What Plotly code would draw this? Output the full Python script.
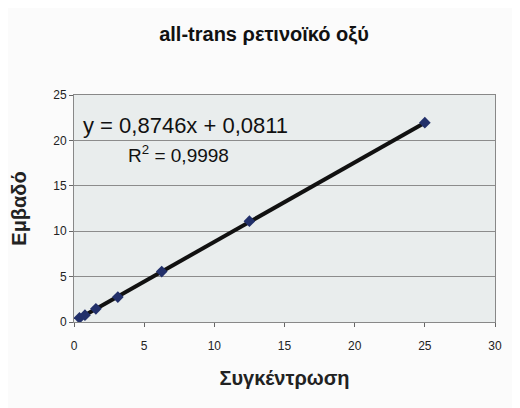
import plotly.graph_objects as go

conc = [0.39, 0.78, 1.56, 3.125, 6.25, 12.5, 25.0]
area = [0.45, 0.75, 1.45, 2.75, 5.55, 11.1, 21.95]
slope = 0.8746
intercept = 0.0811
eq_text = "y = 0,8746x + 0,0811"
r2_text = "R<sup>2</sup> = 0,9998"

line_x = [min(conc), max(conc)]
line_y = [slope * v + intercept for v in line_x]

fig = go.Figure()
fig.add_trace(go.Scatter(x=line_x, y=line_y, mode="lines",
                         line=dict(color="#111111", width=4), showlegend=False))
fig.add_trace(go.Scatter(x=conc, y=area, mode="markers",
                         marker=dict(symbol="diamond", size=9, color="#22306a"),
                         showlegend=False))

fig.add_annotation(x=0.016, y=0.864, xref="paper", yref="paper", text=eq_text,
                   showarrow=False, xanchor="left", yanchor="middle",
                   font=dict(family="Arial, Liberation Sans", size=22, color="#111111"))
fig.add_annotation(x=0.123, y=0.742, xref="paper", yref="paper", text=r2_text,
                   showarrow=False, xanchor="left", yanchor="middle",
                   font=dict(family="Arial, Liberation Sans", size=19, color="#111111"))

fig.update_layout(
    width=520, height=408,
    margin=dict(l=66, r=33, t=87, b=94, autoexpand=False),
    paper_bgcolor="#fbfbfb",
    plot_bgcolor="#e9eded",
    title=dict(text="<b>all-trans ρετινοϊκό οξύ</b>", x=(264 - 8) / 520, xanchor="center",
               y=0.936, yanchor="middle",
               font=dict(family="Arial, Liberation Sans", size=20, color="#111111")),
    font=dict(family="Arial, Liberation Sans", color="#222222"),
    xaxis=dict(range=[0, 30], tickvals=[0, 5, 10, 15, 20, 25, 30],
               showgrid=False, zeroline=False, showline=True, linecolor="#888888",
               mirror=True, ticks="outside", ticklen=4, tickcolor="#666666",
               tickfont=dict(size=12), automargin=False, ticklabelstandoff=9,
               title=dict(text="<b>Συγκέντρωση</b>", font=dict(size=20), standoff=18)),
    yaxis=dict(range=[0, 25], tickvals=[0, 5, 10, 15, 20, 25],
               showgrid=True, gridcolor="#8c8c8c", gridwidth=1,
               zeroline=False, showline=True, linecolor="#888888",
               mirror=True, ticks="outside", ticklen=4, tickcolor="#666666",
               tickfont=dict(size=12), automargin=False,
               title=dict(text="<b>Εμβαδό</b>", font=dict(size=20), standoff=22)),
)

fig.write_html("out.html")
